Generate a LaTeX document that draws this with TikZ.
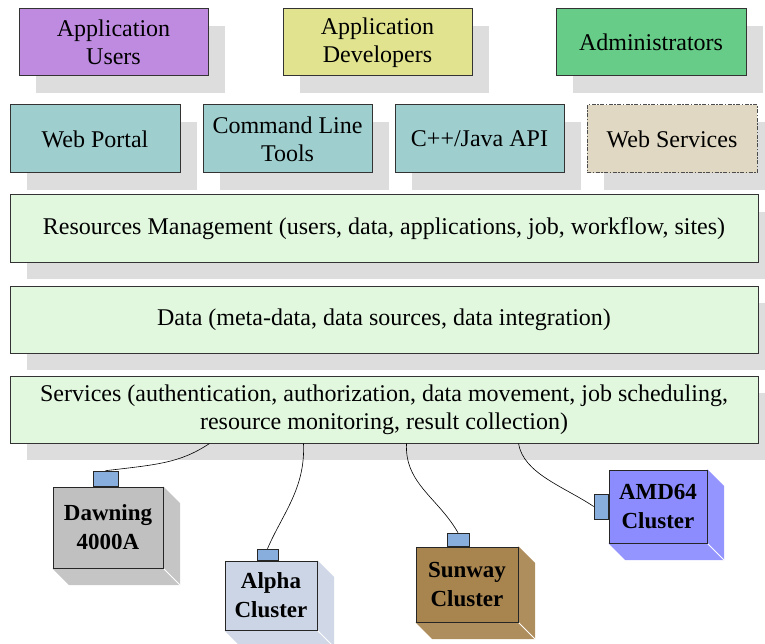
\documentclass[tikz,border=0pt]{standalone}
\usepackage{fontspec}
\setmainfont{Liberation Serif}
\usetikzlibrary{calc,shadows}

\definecolor{usercol}{HTML}{BF8BE1}
\definecolor{devcol}{HTML}{E1E38F}
\definecolor{admcol}{HTML}{66CC88}
\definecolor{toolcol}{HTML}{9ECECE}
\definecolor{wscol}{HTML}{E0D8C2}
\definecolor{layercol}{HTML}{E1F8DF}
\definecolor{shadowcol}{HTML}{DDDDDD}
\definecolor{portcol}{HTML}{88AEDD}
\definecolor{dawncol}{HTML}{C0C0C0}
\definecolor{alphacol}{HTML}{CCD5E6}
\definecolor{suncol}{HTML}{A8844F}
\definecolor{amdcol}{HTML}{8C8CFF}

\tikzset{
  flatbox/.style={draw=black!80, line width=1pt, rectangle, inner sep=0pt,
    align=center, font=\fontsize{24}{28}\selectfont,
    general shadow={shadow xshift=17pt, shadow yshift=-17pt, fill=shadowcol}},
  layerbox/.style={flatbox, fill=layercol, minimum width=748pt, minimum height=67pt},
  clusterbox/.style={draw=black!85, line width=1pt, rectangle, inner sep=0pt,
    align=center, font=\fontsize{23}{29}\selectfont\bfseries},
  portbox/.style={draw=black!85, line width=0.8pt, fill=portcol, rectangle, inner sep=0pt},
  link/.style={draw=black, line width=0.6pt},
}

% side and bottom faces of a cluster block
\newcommand\blockdepth[2]{%
  \fill[#2!92!white] (#1.north east) -- ++(16.5,16.5)
    -- ($(#1.south east)+(16.5,16.5)$) -- ($(#1.south west)+(16.5,16.5)$)
    -- (#1.south west) -- cycle;
  \draw[white, line width=0.8pt] (#1.south east) -- ++(16.5,16.5);
}

\begin{document}
\begin{tikzpicture}[x=1pt, y=-1pt]
\useasboundingbox (0,0) rectangle (765,644);

% user groups
\node[flatbox, fill=usercol, minimum width=189pt, minimum height=67pt] (users) at (113.5,42.5) {Application\\Users};
\node[flatbox, fill=devcol, minimum width=189pt, minimum height=67pt] (devs) at (377.5,42.5) {Application\\Developers};
\node[flatbox, fill=admcol, minimum width=190pt, minimum height=67pt] (admins) at (651,42.5) {Administrators};

% access interfaces
\node[flatbox, fill=toolcol, minimum width=170pt, minimum height=68pt] (portal) at (95,139) {Web Portal};
\node[flatbox, fill=toolcol, minimum width=169pt, minimum height=68pt] (cli) at (287.5,139) {Command Line\\Tools};
\node[flatbox, fill=toolcol, minimum width=169pt, minimum height=68pt] (api) at (479.5,139) {C++/Java API};
\node[flatbox, fill=wscol, minimum width=170pt, minimum height=68pt, draw=black!70,
  dash pattern=on 4pt off 1.5pt on 1.5pt off 1.5pt] (ws) at (672,139) {Web Services};

% middleware layers
\node[layerbox] (res) at (384,228.5) {Resources Management (users, data, applications, job, workflow, sites)};
\node[layerbox] (data) at (384,319.5) {Data (meta-data, data sources, data integration)};
\node[layerbox] (svc) at (384,409.5) {Services (authentication, authorization, data movement, job scheduling,\\resource monitoring, result collection)};

% computing resources
\node[clusterbox, minimum width=110pt, minimum height=81pt] (dawn) at (108,527.5) {};
\node[clusterbox, minimum width=92pt, minimum height=69pt] (alpha) at (271,595.5) {};
\node[clusterbox, minimum width=102pt, minimum height=75pt] (sun) at (467,584.5) {};
\node[clusterbox, minimum width=98pt, minimum height=73pt] (amd) at (658,506.5) {};

\blockdepth{dawn}{dawncol}
\blockdepth{alpha}{alphacol}
\blockdepth{sun}{suncol}
\blockdepth{amd}{amdcol}

\node[clusterbox, fill=dawncol, minimum width=110pt, minimum height=81pt] at (dawn) {Dawning\\4000A};
\node[clusterbox, fill=alphacol, minimum width=92pt, minimum height=69pt] at (alpha) {Alpha\\Cluster};
\node[clusterbox, fill=suncol, minimum width=102pt, minimum height=75pt] at (sun) {Sunway\\Cluster};
\node[clusterbox, fill=amdcol, minimum width=98pt, minimum height=73pt] at (amd) {AMD64\\Cluster};

% network ports
\node[portbox, minimum width=25pt, minimum height=15pt, anchor=south] (dawnport) at ($(dawn.north)+(-2.5,0)$) {};
\node[portbox, minimum width=21pt, minimum height=11pt, anchor=south] (alphaport) at ($(alpha.north)+(-3.5,0)$) {};
\node[portbox, minimum width=22pt, minimum height=13pt, anchor=south] (sunport) at ($(sun.north)+(-9,0)$) {};
\node[portbox, minimum width=14pt, minimum height=25pt, anchor=east] (amdport) at (amd.west) {};

% links from the services layer
\draw[link] ($(svc.south west)+(200,0)$) .. controls +(-30,20) and +(50,-6) .. (dawnport.north);
\draw[link] ($(svc.south west)+(294,0)$) .. controls +(2,45) and +(15,-35) .. (alphaport.north);
\draw[link] ($(svc.south west)+(397,0)$) .. controls +(-2,40) and +(-20,-35) .. (sunport.north);
\draw[link] ($(svc.south west)+(509,0)$) .. controls +(5,30) and +(-30,-20) .. (amdport.west);
\end{tikzpicture}
\end{document}
